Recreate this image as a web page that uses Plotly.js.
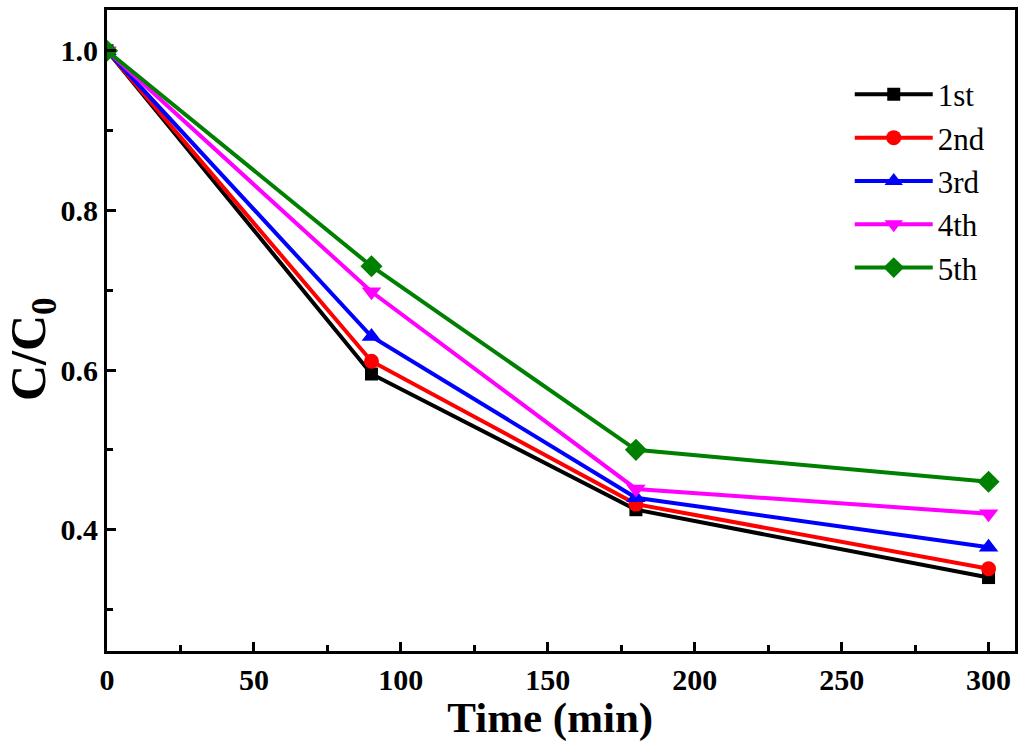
<!DOCTYPE html>
<html>
<head>
<meta charset="utf-8">
<script src="https://cdn.plot.ly/plotly-3.0.1.min.js"></script>
<style>html,body{margin:0;padding:0;background:#fff;}#chart{width:1024px;height:742px;}</style>
</head>
<body>
<div id="chart"></div>
<script>
const time = [0, 90, 180, 300];
const seriesNames = ["1st", "2nd", "3rd", "4th", "5th"];
const run1 = [1.0, 0.595, 0.425, 0.340];
const run2 = [1.0, 0.611, 0.432, 0.351];
const run3 = [1.0, 0.642, 0.440, 0.378];
const run4 = [1.0, 0.698, 0.451, 0.420];
const run5 = [1.0, 0.730, 0.500, 0.460];

const allRuns = [run1, run2, run3, run4, run5];
const colors = ["#000000", "#ff0000", "#0000ff", "#ff00ff", "#008000"];
const symbols = ["square", "circle", "triangle-up", "triangle-down", "diamond"];
const sizes = [13, 15, 17, 17, 17];

const traces = allRuns.map((vals, i) => ({
  x: time, y: vals, name: seriesNames[i], type: "scatter", mode: "lines+markers",
  line: {color: colors[i], width: 4},
  marker: {color: colors[i], symbol: symbols[i], size: sizes[i]},
  legendgroup: "g" + i
}));

const fontFam = "Liberation Serif, Times New Roman, serif";
const layout = {
  width: 1024, height: 742,
  margin: {l: 107, r: 9, t: 10, b: 91},
  paper_bgcolor: "#fff", plot_bgcolor: "#fff",
  showlegend: true,
  legend: {x: 0.818, y: 0.91, xanchor: "left", yanchor: "top", bgcolor: "rgba(0,0,0,0)",
           font: {family: fontFam, size: 31, color: "#000"}, tracegroupgap: 0, itemwidth: 78},
  xaxis: {
    range: [0, 309], tick0: 0, dtick: 50, ticks: "inside", ticklen: 9, tickwidth: 3, tickcolor: "#000",
    minor: {dtick: 25, ticks: "inside", ticklen: 6, tickwidth: 3, tickcolor: "#000"},
    showline: true, linewidth: 3, linecolor: "#000", mirror: true,
    showgrid: false, zeroline: false,
    tickfont: {family: fontFam, size: 30, color: "#000", weight: "bold"},
    title: {text: "<b>Time (min)&nbsp;&nbsp;</b>", font: {family: fontFam, size: 43, color: "#000"}, standoff: 4}
  },
  yaxis: {
    range: [0.248, 1.051], tick0: 0, dtick: 0.2, tickformat: ".1f",
    ticks: "inside", ticklen: 9, tickwidth: 3, tickcolor: "#000",
    minor: {dtick: 0.1, ticks: "inside", ticklen: 6, tickwidth: 3, tickcolor: "#000"},
    showline: true, linewidth: 3, linecolor: "#000", mirror: true,
    showgrid: false, zeroline: false,
    tickfont: {family: fontFam, size: 30, color: "#000", weight: "bold"},
    title: {text: "<b>C/C<sub>0</sub>&nbsp;&nbsp;&nbsp;</b>", font: {family: fontFam, size: 50, color: "#000"}, standoff: 4}
  }
};

Plotly.newPlot("chart", traces, layout, {displayModeBar: false, staticPlot: true});
</script>
</body>
</html>
